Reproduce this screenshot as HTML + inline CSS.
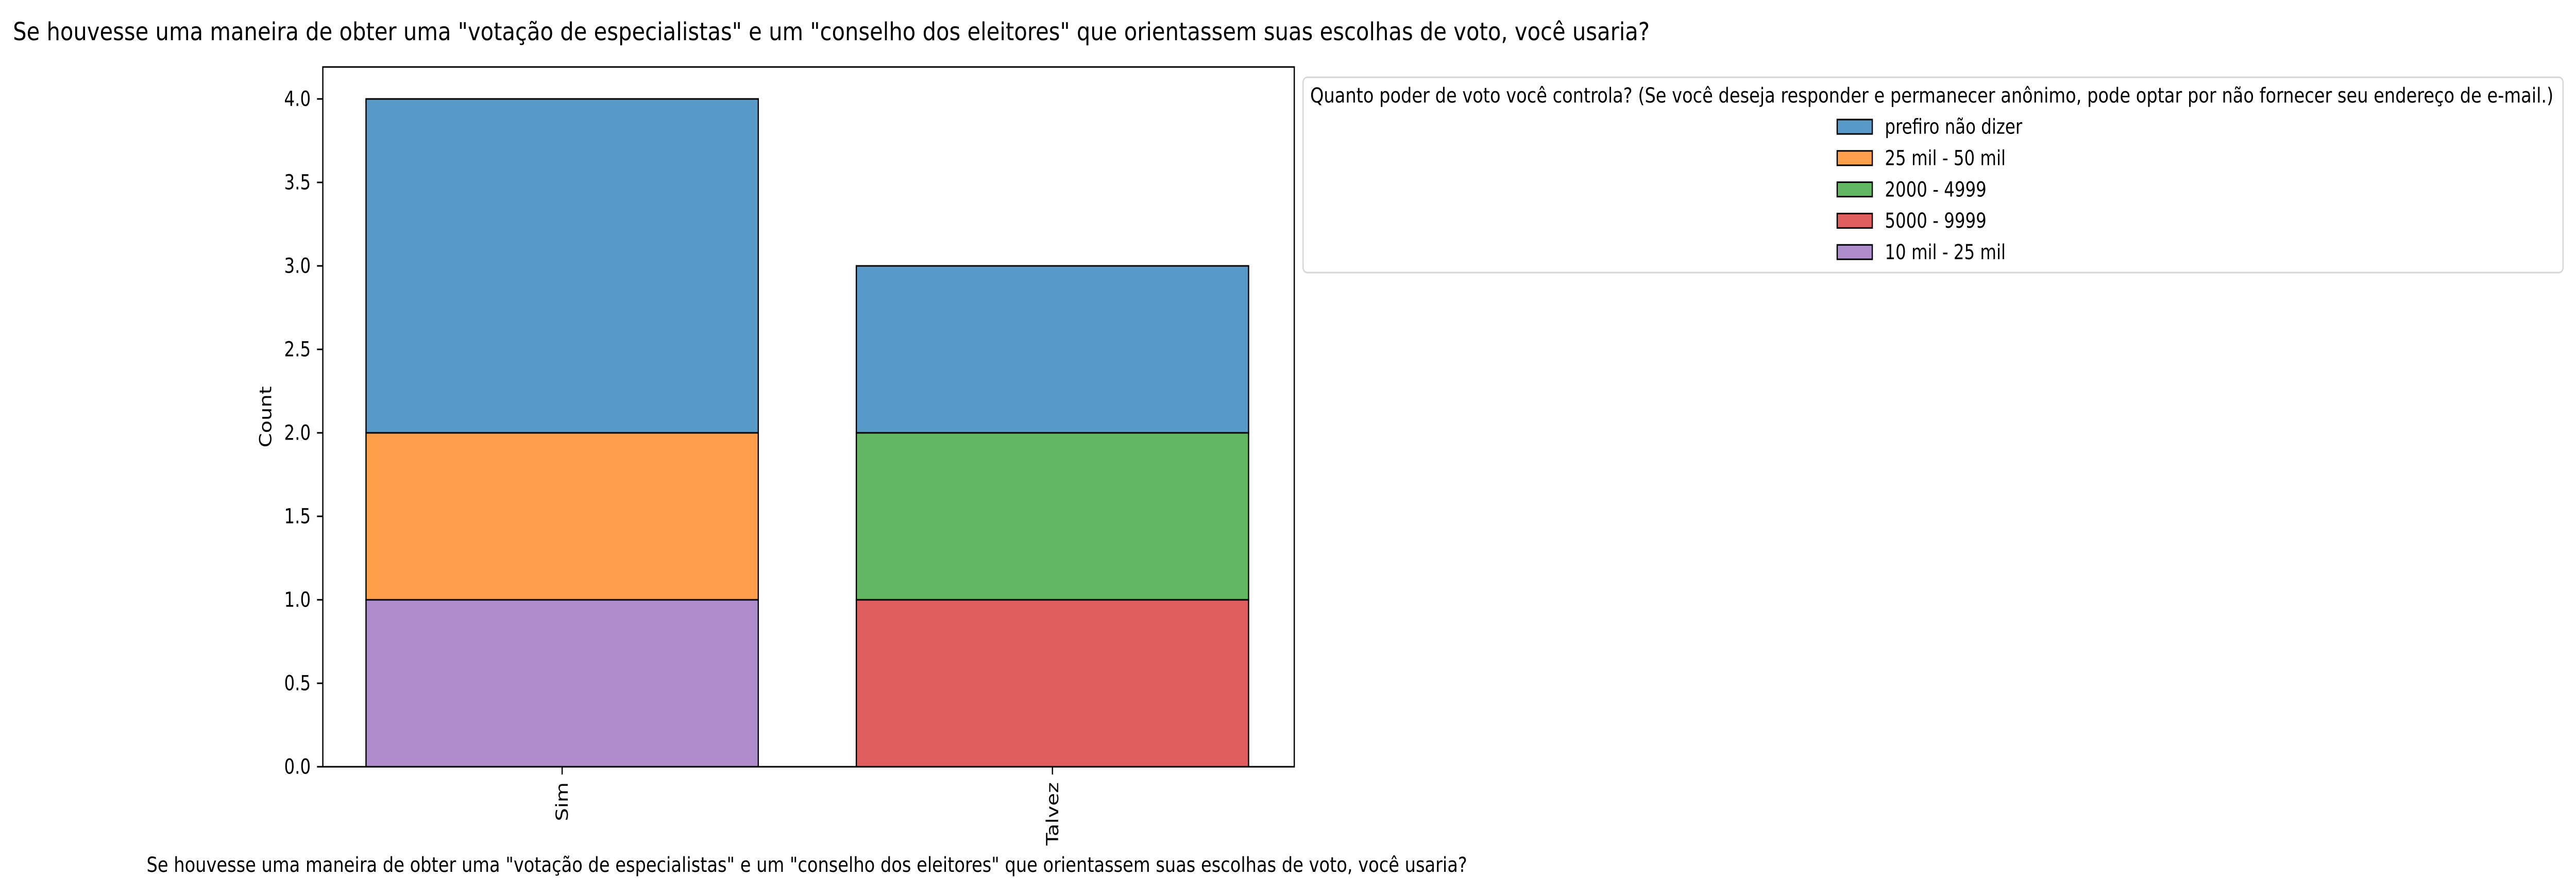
<!DOCTYPE html>
<html><head><meta charset="utf-8"><style>
html,body{margin:0;padding:0;background:#fff;width:100%;height:100%;overflow:hidden;}
svg{display:block;font-family:"DejaVu Sans","Liberation Sans",sans-serif;overflow:hidden;width:100vw;height:100vh;}
</style></head><body>
<svg id="chart" width="100%" height="100%" viewBox="0 0 6168 1733" preserveAspectRatio="none" overflow="hidden" xmlns="http://www.w3.org/2000/svg">
<rect x="0" y="0" width="6168" height="1733" fill="#fff"/>
<text x="31" y="78" font-size="48" textLength="3919" lengthAdjust="spacingAndGlyphs">Se houvesse uma maneira de obter uma "votação de especialistas" e um "conselho dos eleitores" que orientassem suas escolhas de voto, você usaria?</text>
<g id="plot"></g>
<text x="351" y="1692" font-size="40" textLength="3162" lengthAdjust="spacingAndGlyphs">Se houvesse uma maneira de obter uma "votação de especialistas" e um "conselho dos eleitores" que orientassem suas escolhas de voto, você usaria?</text>
<text x="636" y="809" font-size="40" text-anchor="middle" dominant-baseline="central" transform="rotate(-90 636 809)">Count</text>
<g id="legend"></g>
</svg>
<script>
const categories = ["Sim", "Talvez"];
const seriesNames = ["prefiro não dizer", "25 mil - 50 mil", "2000 - 4999", "5000 - 9999", "10 mil - 25 mil"];
const seriesColors = ["#5799c7", "#ff9f4a", "#61b861", "#e05d5e", "#af8dcd"];
const valPrefiro = [2, 1];
const val25a50 = [1, 0];
const val2000 = [0, 1];
const val5000 = [0, 1];
const val10a25 = [1, 0];
const yTicks = [0, 0.5, 1, 1.5, 2, 2.5, 3, 3.5, 4];
const legendTitle = "Quanto poder de voto você controla? (Se você deseja responder e permanecer anônimo, pode optar por não fornecer seu endereço de e-mail.)";

const NS = "http://www.w3.org/2000/svg";
const AX = {l: 773, r: 3099, t: 130, b: 1488};
const Y0 = 1488, PERU = 324;
function yS(v){ return Y0 - v * PERU; }
const catStep = 1174, cat0 = 1346;
function xS(i){ return cat0 + i * catStep; }
const barW = 0.8 * catStep;
function mk(tag, attrs, parent){
  const e = document.createElementNS(NS, tag);
  for (const k in attrs) e.setAttribute(k, attrs[k]);
  parent.appendChild(e); return e;
}
const plot = document.getElementById('plot');
const allSeries = [valPrefiro, val25a50, val2000, val5000, val10a25];

categories.forEach((c, i) => {
  let base = 0;
  for (let s = allSeries.length - 1; s >= 0; s--) {
    const v = allSeries[s][i];
    if (v <= 0) continue;
    const r = mk('rect', {x: xS(i) - barW/2, y: yS(base + v), width: barW, height: yS(base) - yS(base + v),
      fill: seriesColors[s], stroke: '#000', 'stroke-width': 3}, plot);
    
    
    base += v;
  }
});
const frame = mk('rect', {x: AX.l, y: AX.t, width: AX.r - AX.l, height: AX.b - AX.t, fill: 'none', stroke: '#000', 'stroke-width': 3}, plot);


yTicks.forEach(v => {
  const y = yS(v);
  const t = mk('line', {x1: AX.l - 14, x2: AX.l, y1: y, y2: y, stroke: '#000', 'stroke-width': 3}, plot);
  
  
  const tx = mk('text', {x: AX.l - 29, y: y, 'font-size': 40, 'text-anchor': 'end', 'dominant-baseline': 'central'}, plot);
  tx.textContent = v.toFixed(1);
  
  
});
categories.forEach((c, i) => {
  const x = xS(i);
  const t = mk('line', {x1: x, x2: x, y1: AX.b, y2: AX.b + 15, stroke: '#000', 'stroke-width': 3}, plot);
  
  
  const ty = AX.b + 30;
  const tx = mk('text', {x: x, y: ty, 'font-size': 40, 'text-anchor': 'end', 'dominant-baseline': 'central', transform: 'rotate(-90 ' + x + ' ' + ty + ')'}, plot);
  tx.textContent = c;
  
  
});
const lg = document.getElementById('legend');
const box = mk('rect', {x: 3120, y: 150, width: 3017, height: 379, rx: 10, fill: '#fff', stroke: '#d6d6d6', 'stroke-width': 3}, lg);


const lt = mk('text', {x: 3137, y: 199, 'font-size': 40, textLength: 2977, lengthAdjust: 'spacingAndGlyphs'}, lg);
lt.textContent = legendTitle;


seriesNames.forEach((n, s) => {
  const cy = 246 + s * 60.8;
  const p = mk('rect', {x: 4399, y: cy - 14, width: 84, height: 28, fill: seriesColors[s], stroke: '#000', 'stroke-width': 3}, lg);
  
  
  const t = mk('text', {x: 4513, y: cy, 'font-size': 40, 'dominant-baseline': 'central'}, lg);
  t.textContent = n;
  
  
});
</script>
</body></html>
